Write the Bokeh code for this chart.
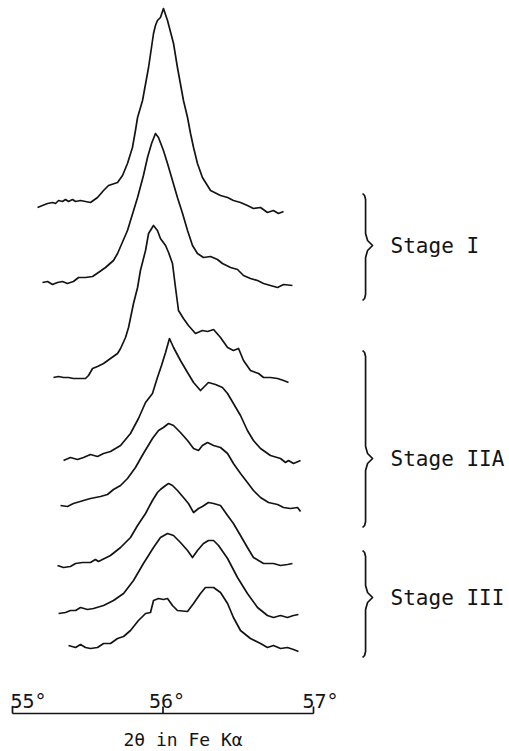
from bokeh.plotting import figure
from bokeh.models import Range1d
from bokeh.core.properties import value
from bokeh.embed import file_html
from bokeh.resources import INLINE

# ---- data: 2-theta (deg) and intensity above each profile's baseline (arb. units) ----
theta_1 = [55.166, 55.199, 55.233, 55.266, 55.286, 55.306, 55.332, 55.352, 55.372, 55.399,
           55.419, 55.452, 55.485, 55.518, 55.565, 55.605, 55.638, 55.698, 55.731, 55.764,
           55.797, 55.817, 55.831, 55.864, 55.904, 55.937, 55.950, 55.963, 55.983, 56.003,
           56.030, 56.070, 56.096, 56.136, 56.163, 56.183, 56.203, 56.229, 56.262, 56.316,
           56.382, 56.429, 56.468, 56.515, 56.561, 56.601, 56.648, 56.694, 56.734, 56.767,
           56.801]
int_1 = [0, 2, 4, 5, 4, 7, 6, 8, 6, 8,
         6, 7, 6, 5, 10, 17, 22, 25, 32, 44,
         60, 77, 90, 107, 140, 174, 182, 187, 190, 199,
         187, 164, 140, 107, 90, 74, 60, 44, 30, 17,
         12, 10, 7, 5, 2, -1, 0, -5, -3, -6,
         -4]

theta_2 = [55.199, 55.233, 55.266, 55.299, 55.332, 55.365, 55.405, 55.439, 55.485, 55.532,
           55.571, 55.618, 55.671, 55.698, 55.764, 55.831, 55.870, 55.897, 55.924, 55.950,
           55.970, 56.003, 56.030, 56.063, 56.096, 56.130, 56.163, 56.196, 56.229, 56.269,
           56.316, 56.362, 56.395, 56.449, 56.495, 56.535, 56.581, 56.628, 56.668, 56.714,
           56.761, 56.801, 56.860]
int_2 = [0, 1, -2, 0, 1, -1, 1, 5, 5, 6,
         10, 15, 22, 29, 52, 85, 107, 125, 139, 149,
         145, 132, 119, 102, 85, 69, 52, 37, 29, 25,
         26, 23, 19, 15, 13, 7, 4, 2, -1, -3,
         -5, -2, -3]

theta_3 = [55.272, 55.306, 55.339, 55.372, 55.405, 55.439, 55.485, 55.505, 55.532, 55.565,
           55.605, 55.651, 55.698, 55.718, 55.751, 55.771, 55.804, 55.831, 55.850, 55.884,
           55.904, 55.937, 55.963, 55.983, 56.017, 56.037, 56.063, 56.083, 56.103, 56.136,
           56.169, 56.216, 56.262, 56.296, 56.336, 56.382, 56.429, 56.468, 56.502, 56.535,
           56.581, 56.635, 56.668, 56.714, 56.761, 56.801, 56.834]
int_3 = [0, 1, 0, 0, -1, -1, -1, 2, 9, 11,
         14, 19, 24, 29, 40, 50, 74, 90, 107, 127,
         144, 152, 147, 139, 132, 125, 114, 90, 67, 59,
         52, 44, 47, 46, 48, 40, 30, 27, 29, 17,
         7, 4, 0, 0, -1, -3, -5]

theta_4 = [55.339, 55.385, 55.432, 55.472, 55.518, 55.565, 55.605, 55.651, 55.718, 55.784,
           55.837, 55.884, 55.930, 55.963, 55.990, 56.017, 56.043, 56.070, 56.116, 56.163,
           56.203, 56.249, 56.282, 56.302, 56.349, 56.395, 56.429, 56.468, 56.515, 56.561,
           56.601, 56.648, 56.714, 56.781, 56.814, 56.834, 56.867, 56.914]
int_4 = [-2, 1, -1, 1, 4, 2, 5, 7, 13, 25,
         40, 56, 65, 81, 93, 106, 120, 111, 98, 86,
         76, 68, 73, 76, 74, 71, 65, 55, 43, 28,
         18, 10, 3, 0, -4, -2, -5, -2]

theta_5 = [55.319, 55.365, 55.405, 55.472, 55.518, 55.585, 55.631, 55.671, 55.718, 55.764,
           55.817, 55.870, 55.930, 55.970, 56.003, 56.037, 56.070, 56.116, 56.163, 56.203,
           56.236, 56.262, 56.296, 56.336, 56.382, 56.429, 56.468, 56.515, 56.561, 56.601,
           56.648, 56.701, 56.761, 56.801, 56.847, 56.894, 56.914]
int_5 = [0, -1, 2, 5, 7, 9, 11, 16, 20, 27,
         38, 52, 67, 75, 78, 82, 80, 73, 65, 57,
         55, 60, 63, 60, 58, 52, 42, 32, 23, 15,
         8, 3, 1, -2, -3, -2, -6]

theta_6 = [55.299, 55.339, 55.385, 55.419, 55.465, 55.518, 55.551, 55.571, 55.598, 55.651,
           55.718, 55.784, 55.831, 55.884, 55.930, 55.963, 55.983, 56.017, 56.037, 56.063,
           56.096, 56.136, 56.169, 56.203, 56.236, 56.262, 56.302, 56.336, 56.382, 56.429,
           56.468, 56.515, 56.561, 56.601, 56.668, 56.734, 56.781, 56.827, 56.860]
int_6 = [-2, -4, -3, 0, 1, 1, 4, 2, 4, 8,
         16, 26, 38, 50, 63, 71, 74, 78, 80, 78,
         73, 66, 60, 51, 55, 57, 61, 60, 58, 48,
         40, 28, 16, 6, 0, 0, -2, -1, 0]

theta_7 = [55.306, 55.352, 55.385, 55.419, 55.452, 55.498, 55.538, 55.605, 55.671, 55.738,
           55.804, 55.870, 55.937, 55.983, 56.030, 56.070, 56.116, 56.163, 56.196, 56.229,
           56.269, 56.302, 56.336, 56.369, 56.429, 56.495, 56.561, 56.628, 56.694, 56.734,
           56.781, 56.827, 56.867, 56.900]
int_7 = [-1, 0, 2, 2, 5, 3, 4, 7, 12, 19,
         32, 49, 65, 75, 79, 77, 70, 62, 55, 62,
         69, 72, 72, 67, 54, 35, 19, 5, -3, -5,
         -3, -5, -3, -2]

theta_8 = [55.372, 55.419, 55.452, 55.485, 55.518, 55.565, 55.605, 55.651, 55.698, 55.738,
           55.784, 55.837, 55.884, 55.917, 55.937, 55.970, 56.003, 56.030, 56.063, 56.096,
           56.163, 56.203, 56.249, 56.282, 56.336, 56.382, 56.429, 56.468, 56.515, 56.581,
           56.648, 56.694, 56.734, 56.781, 56.827, 56.867, 56.900]
int_8 = [1, -1, 2, -1, -2, -1, 3, 3, 8, 10,
         16, 26, 33, 34, 46, 48, 47, 48, 41, 36,
         35, 43, 53, 59, 59, 54, 43, 29, 16, 8,
         3, -1, 1, -2, -1, -3, -5]

thetas = [theta_1, theta_2, theta_3, theta_4, theta_5, theta_6, theta_7, theta_8]
intensities = [int_1, int_2, int_3, int_4, int_5, int_6, int_7, int_8]
offsets = [506, 431, 336, 255, 208, 150, 101, 67]   # vertical stacking of profiles

stage_labels = ["Stage I", "Stage IIA", "Stage III"]
stage_top = [520, 363, 163]
stage_mid = [468, 255, 116]
stage_bottom = [413, 186, 56]

tick_values = [55, 56, 57]
tick_labels = ["55°", "56°", "57°"]
x_title = "2θ in Fe Kα"

# ---- figure ----
PX = 150.5  # pixels per degree
W, H = 509, 751
x_lo = 55 - 12 / PX
p = figure(width=W, height=H, output_backend="svg", toolbar_location=None,
           x_range=Range1d(x_lo, x_lo + W / PX), y_range=Range1d(-38, H - 38),
           x_axis_type=None, y_axis_type=None, min_border=0)
p.grid.visible = False
p.outline_line_color = None
p.background_fill_color = "white"
p.border_fill_color = "white"

ink = "#141414"
FONT = value("DejaVu Sans Mono")

for th, it, off in zip(thetas, intensities, offsets):
    p.line(th, [v + off for v in it], line_color=ink, line_width=1.7, line_join="round")

# scale bar (x axis)
p.segment(x0=[tick_values[0]], y0=[0], x1=[tick_values[-1]], y1=[0], line_color=ink, line_width=1.7)
p.segment(x0=tick_values, y0=[0] * 3, x1=tick_values, y1=[7] * 3, line_color=ink, line_width=1.7)
p.text(x=tick_values, y=[13] * 3, text=tick_labels, x_offset=[16, 4, 7],
       text_align="center", text_baseline="alphabetic", text_font=FONT,
       text_font_size="20px", text_color=ink)
p.text(x=[56], y=[-26], text=[x_title], x_offset=20, text_align="center",
       text_baseline="alphabetic", text_font=FONT, text_font_size="18px", text_color=ink)

# stage braces
d = 1 / PX
xs0 = 57.346
for top, mid, bot in zip(stage_top, stage_mid, stage_bottom):
    bx = [xs0 - 3 * d, xs0 - 1 * d, xs0, xs0, xs0 + 2 * d, xs0 + 7 * d, xs0 + 2 * d, xs0, xs0,
          xs0 - 1 * d, xs0 - 3 * d]
    by = [top, top - 2, top - 6, mid + 12, mid + 5, mid, mid - 5, mid - 12, bot + 6, bot + 2, bot]
    p.line(bx, by, line_color=ink, line_width=1.7, line_join="round")

p.text(x=[xs0 + 25 * d] * 3, y=stage_mid, text=stage_labels, text_align="left",
       text_baseline="middle", text_font=FONT, text_font_size="21px", text_color=ink)

open("out.html", "w").write(file_html(p, INLINE))
